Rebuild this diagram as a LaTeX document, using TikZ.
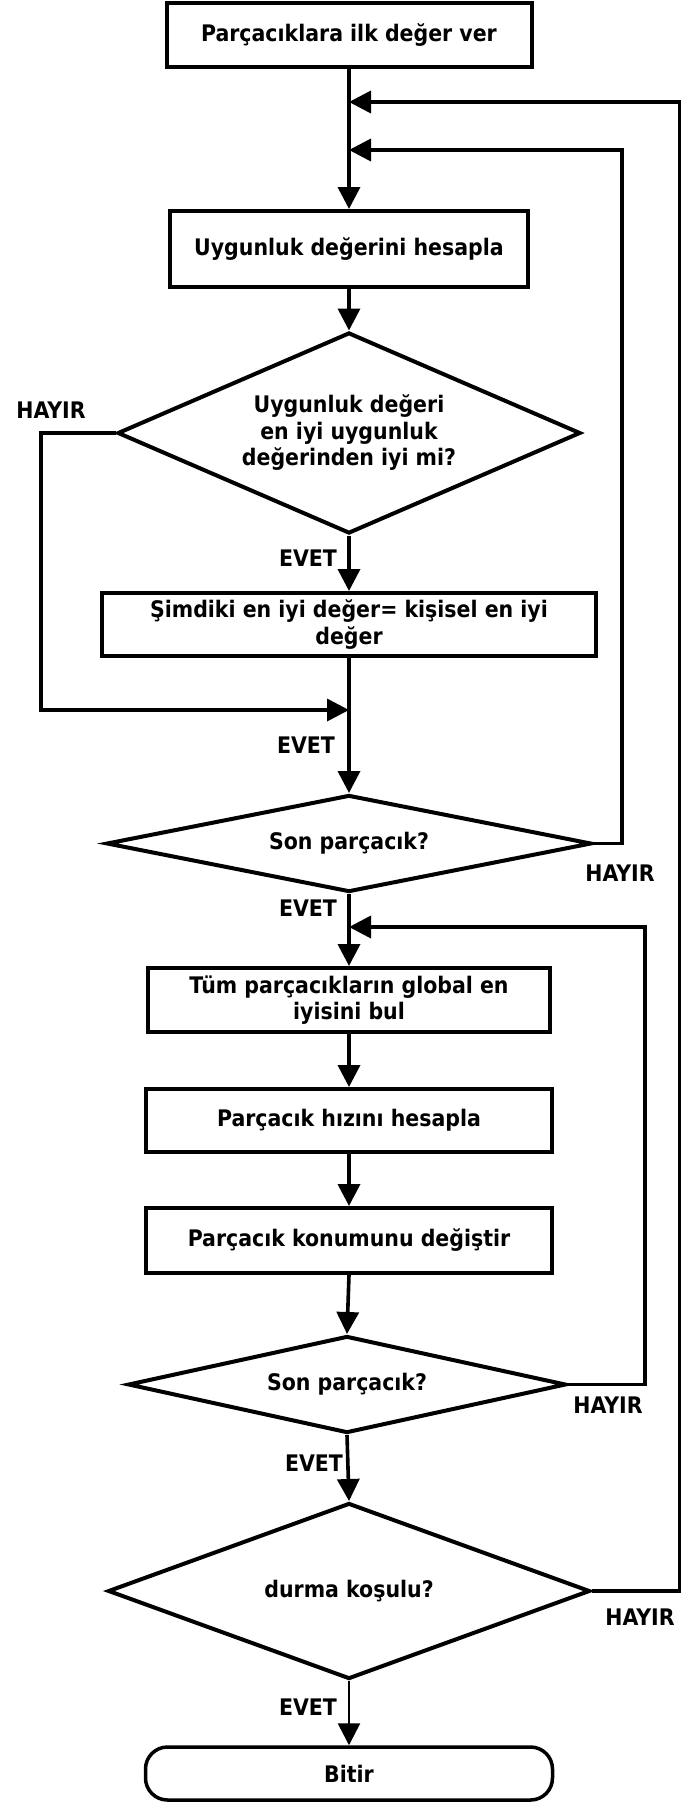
\documentclass[tikz,border=0pt]{standalone}
\usepackage{fontspec}
\setmainfont{DejaVu Sans Condensed}
\usetikzlibrary{shapes.geometric,arrows.meta}
\begin{document}
\begin{tikzpicture}[x=1pt,y=-1pt,
  every node/.style={font=\fontsize{22.8}{26.5}\selectfont\bfseries, align=center},
  procbox/.style={draw, line width=4pt, rectangle, inner sep=0pt},
  decision/.style={draw, line width=4pt, diamond, inner sep=0pt},
  termbox/.style={draw, line width=3.5pt, rectangle, rounded corners=22pt, inner sep=0pt},
  conn/.style={line width=3.6pt, -{Triangle[length=22pt,width=22pt]}},
  lbl/.style={inner sep=0pt}
]
\useasboundingbox (0,0) rectangle (682,1802);

% process boxes
\node[procbox, minimum width=365pt, minimum height=64pt] (b1) at (349,35) {Parçacıklara ilk değer ver};
\node[procbox, minimum width=358pt, minimum height=76pt] (b2) at (349,249) {Uygunluk değerini hesapla};
\node[decision, aspect=2.3, minimum width=463pt, minimum height=201pt] (d1) at (349,433) {Uygunluk değeri\\en iyi uygunluk\\değerinden iyi mi?};
\node[procbox, minimum width=494pt, minimum height=63pt] (b3) at (349,624.5) {Şimdiki en iyi değer= kişisel en iyi\\değer};
\node[decision, aspect=5, minimum width=485pt, minimum height=97pt] (d2) at (349,843.5) {Son parçacık?};
\node[procbox, minimum width=402pt, minimum height=64pt] (b4) at (349,1000) {Tüm parçacıkların global en\\iyisini bul};
\node[procbox, minimum width=406pt, minimum height=63pt] (b5) at (349,1120.5) {Parçacık hızını hesapla};
\node[procbox, minimum width=406pt, minimum height=65pt] (b6) at (349,1240.5) {Parçacık konumunu değiştir};
\node[decision, aspect=4.5, minimum width=438pt, minimum height=97pt] (d3) at (347,1384.5) {Son parçacık?};
\node[decision, aspect=2.74, minimum width=482pt, minimum height=176pt] (d4) at (349,1591) {durma koşulu?};
\node[termbox, minimum width=407pt, minimum height=53pt] (b7) at (349,1773.5) {Bitir};

% labels
\node[lbl] (h1) at (51,410) {HAYIR};
\node[lbl] (e1) at (308,558) {EVET};
\node[lbl] (e2) at (306,745) {EVET};
\node[lbl] (h2) at (620,873) {HAYIR};
\node[lbl] (e3) at (308,908) {EVET};
\node[lbl] (h3) at (608,1405) {HAYIR};
\node[lbl] (e4) at (314,1463) {EVET};
\node[lbl] (h4) at (640,1617) {HAYIR};
\node[lbl] (e5) at (308,1707) {EVET};

% merge points and corners
\coordinate (m1) at (349,102);
\coordinate (m2) at (349,150);
\coordinate (m3) at (349,710);
\coordinate (m4) at (349,927);
\coordinate (l1) at (41,433);
\coordinate (r1) at (679.5,1591);
\coordinate (r2) at (622,843.5);
\coordinate (r3) at (645,1384.5);

% main flow
\draw[conn] (b1.south) -- (b2.north);
\draw[conn] (b2.south) -- (d1.north);
\draw[conn] (d1.south) -- (b3.north);
\draw[conn] (b3.south) -- (d2.north);
\draw[conn] (d2.south) -- (b4.north);
\draw[conn] (b4.south) -- (b5.north);
\draw[conn] (b5.south) -- (b6.north);
\draw[conn] (b6.south) -- (d3.north);
\draw[conn] (d3.south) -- (d4.north);
\draw[conn, line width=2.6pt] (d4.south) -- (b7.north);

% loops
\draw[conn] (d1.west) -- (l1) |- (m3);
\draw[conn] (d2.east) -- (r2) |- (m2);
\draw[conn] (d3.east) -- (r3) |- (m4);
\draw[conn] (d4.east) -- (r1) |- (m1);
\end{tikzpicture}
\end{document}
